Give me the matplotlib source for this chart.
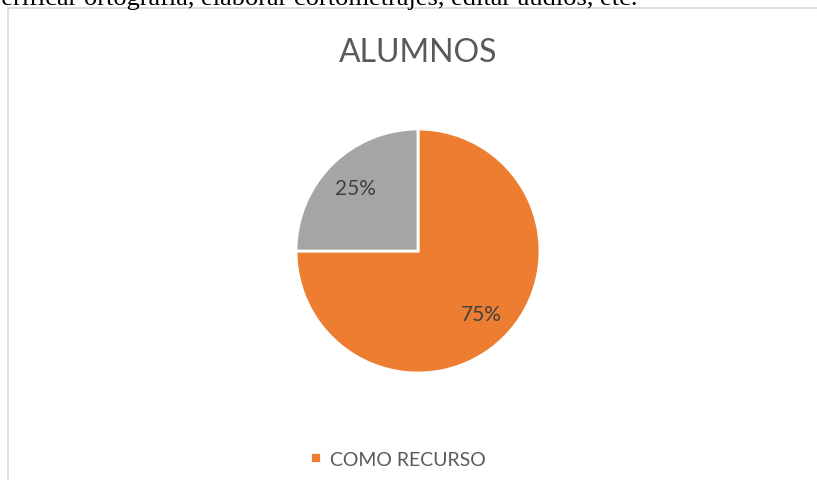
import matplotlib
matplotlib.use("Agg")
import matplotlib.pyplot as plt
from matplotlib.patches import Rectangle

title = "ALUMNOS"
labels = ["COMO RECURSO", ""]
values = [75, 25]
colors = ["#ED7D31", "#A5A5A5"]
top_text = "verificar ortografía, elaborar cortometrajes, editar audios, etc."

W, H = 817, 481
fig = plt.figure(figsize=(W / 100, H / 100), dpi=100)
fig.patch.set_facecolor("white")

# chart frame (cut by the page on the right and bottom)
fig.patches.append(Rectangle((8 / W, -0.1), 1.2, 1.1 - 9 / H, transform=fig.transFigure,
                             fill=False, edgecolor="#D9D9D9", linewidth=1.2))

# document text above the chart, only its lower part visible
fig.text(638 / W, 1 - 5 / H, top_text, ha="right", va="baseline",
         family="Liberation Serif", fontsize=19, color="black")

fig.text(418 / W, 1 - 53 / H, title, ha="center", va="center",
         family="Lato", fontsize=23, color="#595959")

ax = fig.add_axes([296 / W, (H - 374) / H, 244 / W, 244 / H])
wedges, texts, autotexts = ax.pie(
    values, colors=colors, startangle=90, counterclock=False,
    autopct="%1.0f%%", pctdistance=0.73,
    wedgeprops=dict(edgecolor="white", linewidth=2),
    textprops=dict(family="Lato", fontsize=15, color="#404040"))
ax.set_xlim(-1, 1)
ax.set_ylim(-1, 1)
ax.set_aspect("equal")

fig.legend([wedges[0]], [labels[0]], loc="center", bbox_to_anchor=(398 / W, 1 - 460 / H),
           frameon=False, handlelength=0.55, handleheight=0.55, handletextpad=0.5,
           prop=dict(family="Lato", size=14), labelcolor="#595959")

fig.savefig("out.png", dpi=100)
